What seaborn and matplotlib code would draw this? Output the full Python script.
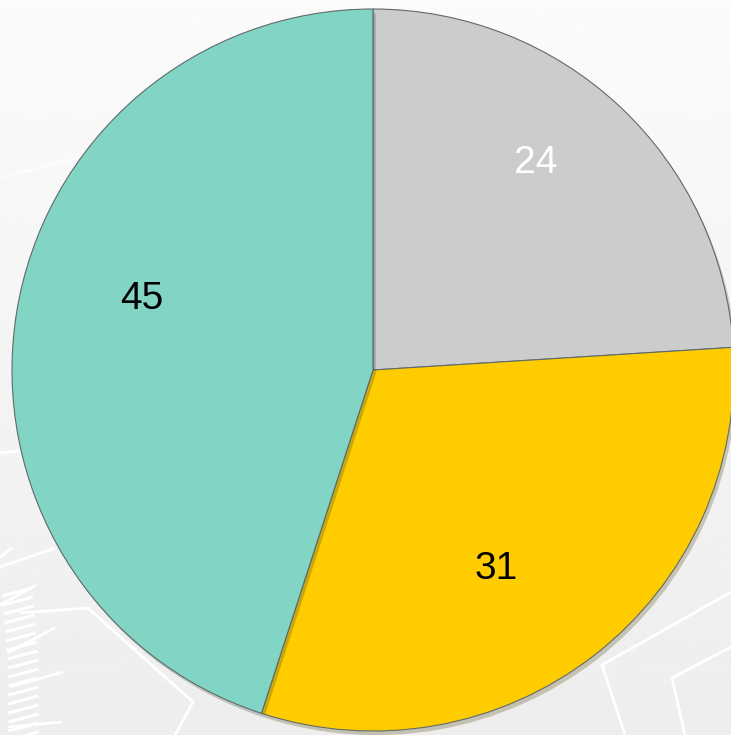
import numpy as np
import seaborn as sns
import matplotlib.pyplot as plt
import matplotlib.patheffects as pe

# chart data
categories = ["Grey", "Yellow", "Teal"]
values = [24, 31, 45]
colors = ["#CCCCCC", "#FFCC00", "#82D4C5"]
label_colors = ["white", "black", "black"]

sns.set_theme(style="white")
plt.rcParams["font.family"] = ["Liberation Sans", "DejaVu Sans"]

fig = plt.figure(figsize=(7.31, 7.35), dpi=100)

# soft gradient background (pixel coordinates, y down)
bg = fig.add_axes([0, 0, 1, 1])
grad = np.linspace(0.985, 0.93, 256).reshape(-1, 1)
bg.imshow(grad, cmap="gray", vmin=0, vmax=1, aspect="auto", extent=[0, 731, 735, 0])
deco = [
    ([0, 78], [178, 158]),
    ([0, 20], [453, 451]),
    ([0, 12], [557, 548]),
    ([0, 55], [567, 548]),
    ([0, 36], [605, 585]),
    ([20, 88, 193, 175], [613, 608, 702, 735]),
    ([7, 55], [653, 628]),
    ([10, 63], [687, 672]),
    ([8, 62], [727, 722]),
    ([731, 602, 625], [592, 665, 735]),
    ([731, 672, 685], [647, 678, 735]),
]
for xs, ys in deco:
    bg.plot(xs, ys, color="white", lw=2, solid_capstyle="butt",
            alpha=0.6 if ys[0] < 300 else 1.0)
for i, y in enumerate(range(590, 735, 9)):
    x0 = 2 + min(i, 8) * 0.8
    bg.plot([x0, x0 + 30], [y + 6, y - 2], color="white", lw=2.2, solid_capstyle="butt")
bg.set_xlim(0, 731)
bg.set_ylim(735, 0)
bg.axis("off")

ax = fig.add_axes([12 / 731, 4 / 735, 722 / 731, 722 / 735])
ax.patch.set_alpha(0)
wedges, texts = ax.pie(
    values,
    colors=colors,
    startangle=90,
    counterclock=False,
    radius=1.0,
    wedgeprops=dict(edgecolor="#5f6b68", linewidth=0.8),
)
for w in wedges:
    w.set_path_effects([pe.SimplePatchShadow(offset=(2, -3), alpha=0.25), pe.Normal()])

# value labels placed inside each slice
label_r = [0.73, 0.65, 0.67]
label_shift = [5, -6, -8]
for w, v, r, s, c in zip(wedges, values, label_r, label_shift, label_colors):
    ang = np.deg2rad((w.theta1 + w.theta2) / 2 + s)
    ax.text(r * np.cos(ang), r * np.sin(ang), str(v), ha="center", va="center",
            fontsize=28, color=c)

ax.set_xlim(-1, 1)
ax.set_ylim(-1, 1)
ax.set_aspect("equal")
ax.axis("off")

plt.savefig("out.png", dpi=100)
